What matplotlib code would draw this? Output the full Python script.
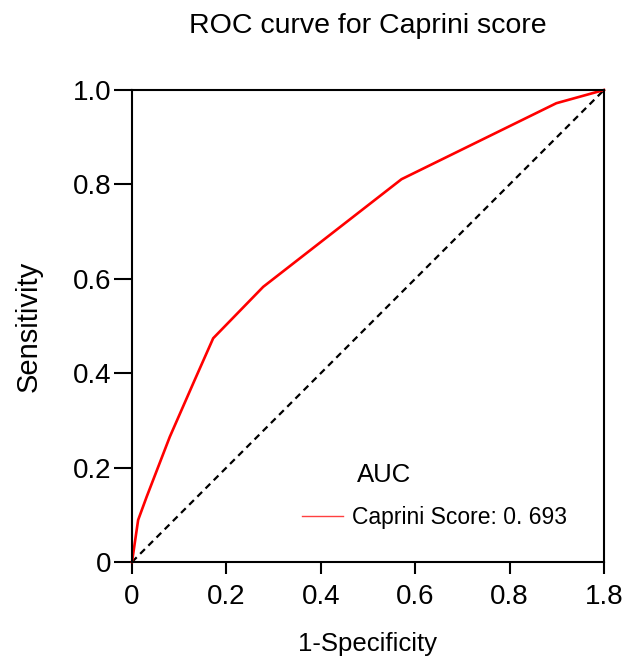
import numpy as np
import matplotlib.pyplot as plt

plt.rcParams['font.family'] = ['Liberation Sans', 'DejaVu Sans']

# ROC points
fpr = [0.0, 0.013, 0.031, 0.08, 0.133, 0.172, 0.278, 0.571, 0.899, 1.0]
tpr = [0.0, 0.089, 0.138, 0.265, 0.386, 0.474, 0.583, 0.811, 0.972, 1.0]
auc_label = "Caprini Score: 0. 693"

x_ticks = [0, 0.2, 0.4, 0.6, 0.8, 1.0]
x_tick_labels = ["0", "0.2", "0.4", "0.6", "0.8", "1.8"]
y_ticks = [0, 0.2, 0.4, 0.6, 0.8, 1.0]
y_tick_labels = ["0", "0.2", "0.4", "0.6", "0.8", "1.0"]

fig = plt.figure(figsize=(6.29, 6.60), dpi=100)
ax = fig.add_axes([132 / 629, 98 / 660, 472 / 629, 472 / 660])

# diagonal reference
ax.plot([0, 1], [0, 1], linestyle=(0, (3, 2.2)), color="black", lw=1.6)
ax.plot(fpr, tpr, color="#ff0000", lw=1.9, clip_on=False)

ax.set_xlim(0, 1)
ax.set_ylim(0, 1)
ax.set_xticks(x_ticks)
ax.set_xticklabels(x_tick_labels)
ax.set_yticks(y_ticks)
ax.set_yticklabels(y_tick_labels)
ax.tick_params(direction="out", width=1.5, labelsize=20)
ax.tick_params(axis="x", length=8.5, pad=7)
ax.tick_params(axis="y", length=13, pad=2)

for s in ax.spines.values():
    s.set_linewidth(1.5)

ax.set_xlabel("1-Specificity", fontsize=18.5)
ax.xaxis.set_label_coords(0.5, -0.148)
ax.set_ylabel("Sensitivity", fontsize=21)
ax.yaxis.set_label_coords(-0.19, 0.5)
ax.set_title("ROC curve for Caprini score", fontsize=20.5, pad=41)

# legend
ax.text(0.477, 0.184, "AUC", transform=ax.transAxes, fontsize=18.5,
        ha="left", va="center")
handle, = ax.plot([], [], color="#ff4040", lw=1.0)
ax.legend([handle], [auc_label], loc="center left",
          bbox_to_anchor=(0.36, 0.095), frameon=False, fontsize=16.5,
          handlelength=1.8, handletextpad=0.4, borderpad=0, borderaxespad=0)

fig.savefig("out.png", dpi=100)
